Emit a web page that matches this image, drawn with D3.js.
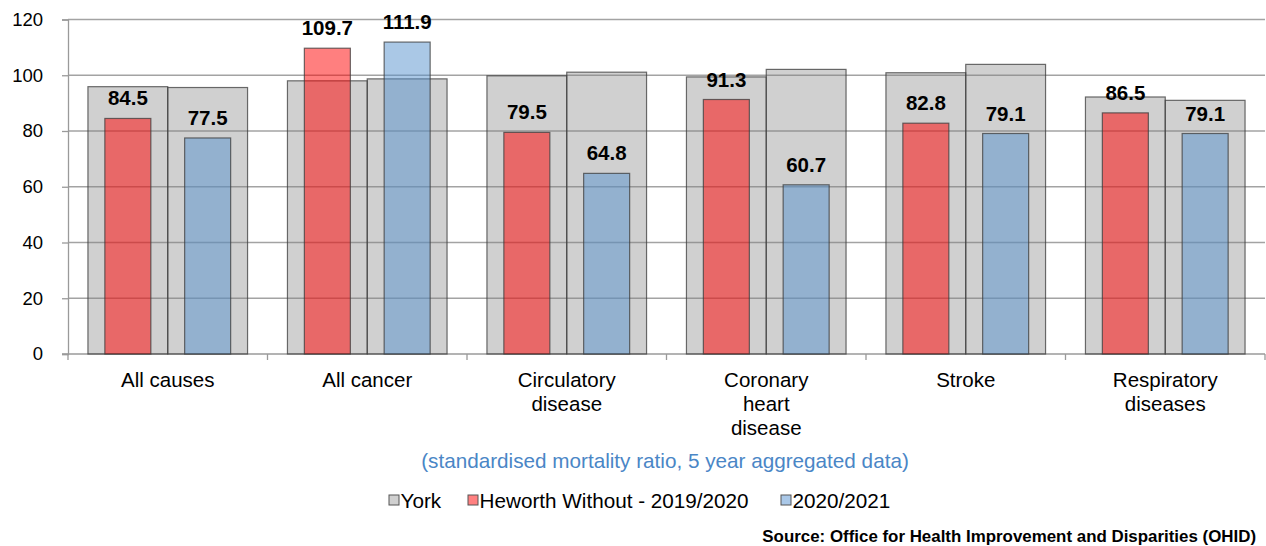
<!DOCTYPE html>
<html>
<head>
<meta charset="utf-8">
<script src="https://cdn.jsdelivr.net/npm/d3@7"></script>
<style>
  body { margin: 0; background: #fff; }
  svg { display: block; font-family: "Liberation Sans", Arial, sans-serif; }
</style>
</head>
<body>
<div id="chart"></div>
<script>
// chart data
var categories = ["All causes", "All cancer", "Circulatory\ndisease", "Coronary\nheart\ndisease", "Stroke", "Respiratory\ndiseases"];
var periods = ["2019/2020", "2020/2021"];
var york2019 = [95.9, 98.0, 99.8, 99.4, 100.9, 92.2];
var york2020 = [95.6, 98.7, 101.1, 102.1, 103.9, 91.0];
var heworth2019 = [84.5, 109.7, 79.5, 91.3, 82.8, 86.5];
var heworth2020 = [77.5, 111.9, 64.8, 60.7, 79.1, 79.1];
var yTicks = [0, 20, 40, 60, 80, 100, 120];
var legendLabels = ["York", "Heworth Without - 2019/2020", "2020/2021"];

function drawChart() {
    var width = 1266, height = 546;
    var plotLeft = 68, plotRight = 1265, plotTop = 19.5, plotBottom = 354;

    var svg = d3.select("#chart").append("svg")
        .attr("width", width)
        .attr("height", height);

    var xScale = d3.scaleBand().domain(categories).range([plotLeft, plotRight]);
    var xInner = d3.scaleBand().domain(periods).range([0, xScale.bandwidth()]).paddingOuter(0.25);
    var yScale = d3.scaleLinear().domain([0, 120]).range([plotBottom, plotTop]);

    var innerW = 46; // width of the Heworth bars

    // gridlines
    svg.append("g")
        .selectAll("line")
        .data(yTicks.filter(d => d > 0))
        .enter()
        .append("line")
        .attr("x1", plotLeft).attr("x2", plotRight)
        .attr("y1", d => yScale(d)).attr("y2", d => yScale(d))
        .attr("stroke", "#a3a3a3")
        .attr("stroke-width", 1.3);

    // y axis
    var yAxis = svg.append("g").attr("transform", "translate(" + plotLeft + ",0)")
        .call(d3.axisLeft(yScale).tickValues(yTicks).tickSize(6).tickPadding(8));
    yAxis.select(".domain").attr("stroke", "#9a9a9a").attr("stroke-width", 1.3);
    yAxis.selectAll(".tick line").attr("stroke", "#9a9a9a").attr("stroke-width", 1.3);
    yAxis.selectAll(".tick text")
        .attr("font-size", 18.5)
        .attr("font-family", "Liberation Sans, Arial, sans-serif")
        .attr("fill", "#000")
        .attr("x", -25);

    // x axis line + category ticks
    svg.append("line")
        .attr("x1", plotLeft - 6).attr("x2", plotRight)
        .attr("y1", plotBottom).attr("y2", plotBottom)
        .attr("stroke", "#9a9a9a").attr("stroke-width", 1.3);
    svg.append("g")
        .selectAll("line")
        .data(categories.concat(["end"]))
        .enter()
        .append("line")
        .attr("x1", (d, i) => plotLeft + i * xScale.step())
        .attr("x2", (d, i) => plotLeft + i * xScale.step())
        .attr("y1", plotBottom).attr("y2", plotBottom + 6)
        .attr("stroke", "#9a9a9a").attr("stroke-width", 1.3);

    // York bars (grey, behind)
    var yorkData = [];
    categories.forEach(function(c, i) {
        yorkData.push({cat: c, period: periods[0], v: york2019[i]});
        yorkData.push({cat: c, period: periods[1], v: york2020[i]});
    });
    svg.append("g")
        .attr("id", "york")
        .selectAll("rect")
        .data(yorkData)
        .enter()
        .append("rect")
        .attr("x", d => xScale(d.cat) + xInner(d.period))
        .attr("width", xInner.bandwidth())
        .attr("y", d => yScale(d.v))
        .attr("height", d => plotBottom - yScale(d.v))
        .attr("fill", "rgba(128,128,128,0.37)")
        .attr("stroke", "rgba(60,60,60,0.75)")
        .attr("stroke-width", 1.2);

    // Heworth Without bars
    var hwData = [];
    categories.forEach(function(c, i) {
        hwData.push({cat: c, period: periods[0], v: heworth2019[i], col: "rgba(255,0,0,0.5)"});
        hwData.push({cat: c, period: periods[1], v: heworth2020[i], col: "rgba(85,145,205,0.5)"});
    });
    svg.append("g")
        .attr("id", "heworth")
        .selectAll("rect")
        .data(hwData)
        .enter()
        .append("rect")
        .attr("x", d => xScale(d.cat) + xInner(d.period) + (xInner.bandwidth() - innerW) / 2)
        .attr("width", innerW)
        .attr("y", d => yScale(d.v))
        .attr("height", d => plotBottom - yScale(d.v))
        .attr("fill", d => d.col)
        .attr("stroke", "rgba(60,60,60,0.75)")
        .attr("stroke-width", 1.2);

    // value labels
    svg.append("g")
        .selectAll("text")
        .data(hwData)
        .enter()
        .append("text")
        .attr("x", d => xScale(d.cat) + xInner(d.period) + xInner.bandwidth() / 2)
        .attr("y", d => yScale(d.v) - 13)
        .attr("text-anchor", "middle")
        .attr("font-size", 20.5)
        .attr("font-weight", "bold")
        .attr("fill", "#000")
        .text(d => d.v.toFixed(1));

    // category labels
    var catLabels = svg.append("g")
        .selectAll("text")
        .data(categories)
        .enter()
        .append("text")
        .attr("x", d => xScale(d) + xScale.bandwidth() / 2)
        .attr("y", 387)
        .attr("text-anchor", "middle")
        .attr("font-size", 20.5)
        .attr("fill", "#000");
    catLabels.selectAll("tspan")
        .data(d => d.split("\n"))
        .enter()
        .append("tspan")
        .attr("x", function() { return d3.select(this.parentNode).attr("x"); })
        .attr("dy", (d, i) => i === 0 ? 0 : 24)
        .text(d => d);

    // axis caption
    svg.append("text")
        .attr("x", 665)
        .attr("y", 468)
        .attr("text-anchor", "middle")
        .attr("font-size", 20.7)
        .attr("fill", "#4a86c6")
        .text("(standardised mortality ratio, 5 year aggregated data)");

    // legend
    var legendX = [389, 468, 781];
    var legendFill = ["#d0d0d0", "#ff8080", "#aac8e8"];
    var legend = svg.append("g")
        .selectAll("g")
        .data(legendLabels)
        .enter()
        .append("g")
        .attr("transform", (d, i) => "translate(" + legendX[i] + ",500)");
    legend.append("rect")
        .attr("x", 0).attr("y", -5)
        .attr("width", 10).attr("height", 10)
        .attr("fill", (d, i) => legendFill[i])
        .attr("stroke", "#555")
        .attr("stroke-width", 1);
    legend.append("text")
        .attr("x", 11.5)
        .attr("y", 7.5)
        .attr("font-size", 20.7)
        .attr("fill", "#000")
        .text(d => d);

    // source
    svg.append("text")
        .attr("x", 1256)
        .attr("y", 542)
        .attr("text-anchor", "end")
        .attr("font-size", 16.9)
        .attr("font-weight", "bold")
        .attr("fill", "#000")
        .text("Source: Office for Health Improvement and Disparities (OHID)");
}

drawChart();
</script>
</body>
</html>
